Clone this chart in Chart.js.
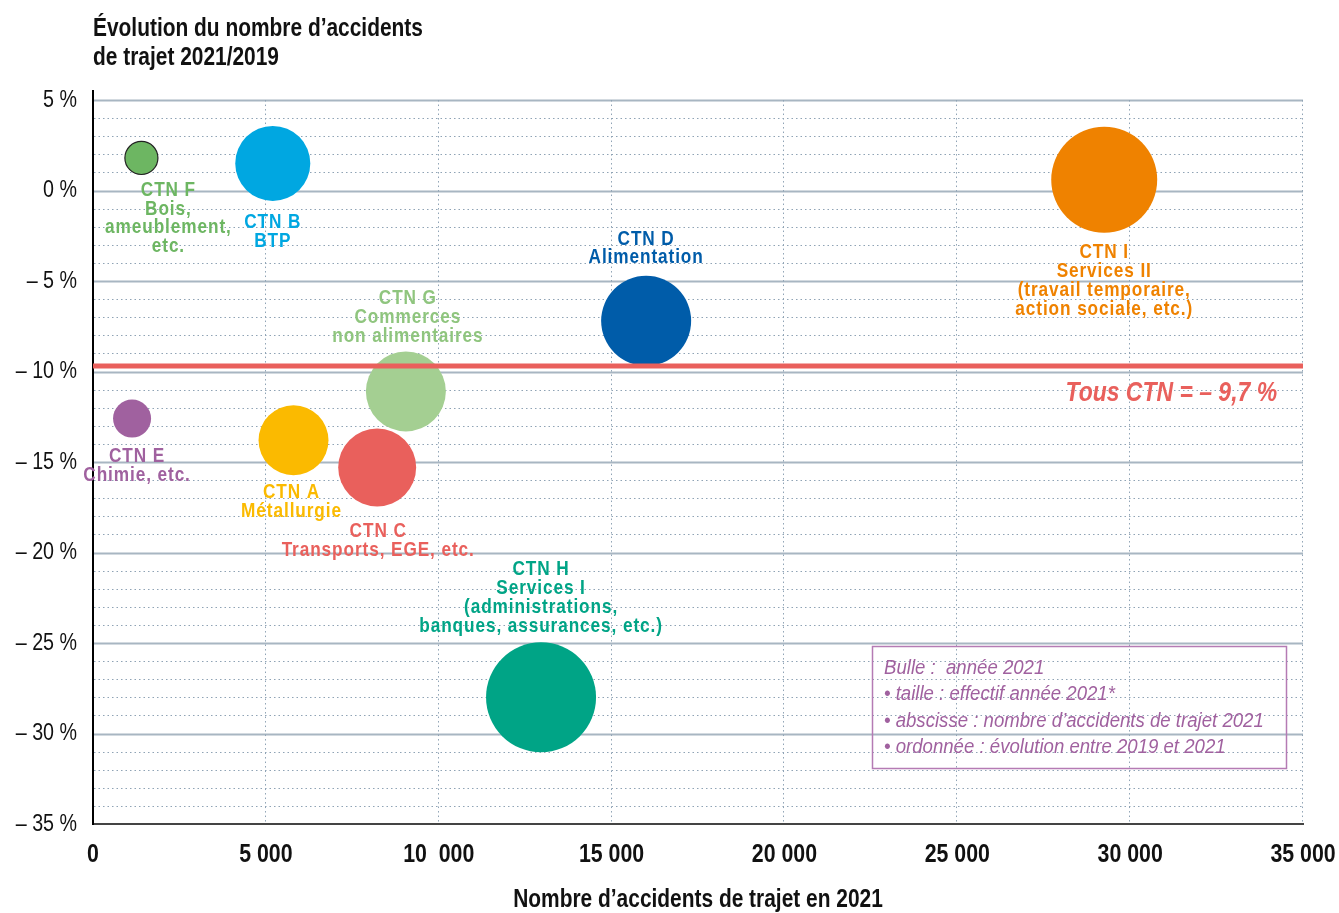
<!DOCTYPE html>
<html>
<head>
<meta charset="utf-8">
<script src="https://cdn.jsdelivr.net/npm/chart.js@4.4.1/dist/chart.umd.min.js"></script>
<style>
  html, body { margin: 0; padding: 0; background: #fff; }
  #wrap { width: 1339px; height: 913px; }
</style>
</head>
<body>
<div id="wrap"><canvas id="bubbles"></canvas></div>
<script>
// data
const ctnNames = ['CTN F', 'CTN B', 'CTN I', 'CTN D', 'CTN G', 'CTN E', 'CTN A', 'CTN C', 'CTN H'];
const ctnSubtitles = [
  ['Bois,', 'ameublement,', 'etc.'],
  ['BTP'],
  ['Services II', '(travail temporaire,', 'action sociale, etc.)'],
  ['Alimentation'],
  ['Commerces', 'non alimentaires'],
  ['Chimie, etc.'],
  ['Métallurgie'],
  ['Transports, EGE, etc.'],
  ['Services I', '(administrations,', 'banques, assurances, etc.)']
];
const accidents2021 = [1400, 5200, 29250, 16000, 9050, 1130, 5800, 8220, 12960];   // x
const evolution = [1.8, 1.5, 0.6, -7.2, -11.1, -12.6, -13.8, -15.3, -28.0];        // y, %
const effectif2021 = [415, 2140, 4270, 3080, 2430, 550, 1860, 2310, 4600];        // bubble size (thousands, estimated)
const allCtn = -9.7;
const xTickValues = [0, 5000, 10000, 15000, 20000, 25000, 30000, 35000];
const xTickLabels = ['0', '5 000', '10  000', '15 000', '20 000', '25 000', '30 000', '35 000'];
const yTickValues = [5, 0, -5, -10, -15, -20, -25, -30, -35];
const legendLines = [
  'Bulle :  année 2021',
  '• taille : effectif année 2021*',
  '• abscisse : nombre d’accidents de trajet 2021',
  '• ordonnée : évolution entre 2019 et 2021'
];

// styles
const colors = ['#6db662', '#00a7e1', '#ef8200', '#005ca9', '#a4cf92', '#a0619f', '#fbba00', '#e9605c', '#00a486'];
const labelColors = ['#6db662', '#00a7e1', '#ef8200', '#005ca9', '#8fc57e', '#a0619f', '#fbba00', '#e9605c', '#00a486'];
const labelOffsets = [[27, 32], [0, 59], [0, 73], [0, -82], [2, -93], [5, 38], [-2, 52], [1, 64], [0, -128]];
const FONT = '"Liberation Sans", Arial, sans-serif';
const NARROW = 0.82; // Arial Narrow look
const maxRadius = 55;
const maxEffectif = Math.max(...effectif2021);

const points = accidents2021.map((x, i) => ({
  x: x,
  y: evolution[i],
  r: maxRadius * Math.sqrt(effectif2021[i] / maxEffectif)
}));

function text(ctx, str, x, y, font, color, align, sx, ls) {
  ctx.save();
  ctx.translate(x, y);
  ctx.scale(sx, 1);
  ctx.font = font;
  ctx.fillStyle = color;
  ctx.textAlign = align;
  ctx.textBaseline = 'middle';
  ctx.letterSpacing = ((ls || 0) / sx) + 'px';
  ctx.fillText(str, 0, 0);
  ctx.restore();
}

const gridPlugin = {
  id: 'grid',
  beforeDatasetsDraw(chart) {
    const { ctx, chartArea: a, scales: { x, y } } = chart;
    ctx.save();
    // horizontal lines, every 1 %
    for (let v = 5; v > -35; v--) {
      const py = Math.round(y.getPixelForValue(v)) + 0.5;
      ctx.beginPath();
      if (v % 5 === 0) {
        ctx.setLineDash([]);
        ctx.strokeStyle = '#a8b6c2';
        ctx.lineWidth = 2;
      } else {
        ctx.setLineDash([1.5, 3]);
        ctx.strokeStyle = '#8fa3b5';
        ctx.lineWidth = 1;
      }
      ctx.moveTo(a.left + 1, py);
      ctx.lineTo(a.right, py);
      ctx.stroke();
    }
    // vertical dotted lines
    ctx.setLineDash([1.5, 3]);
    ctx.strokeStyle = '#8fa3b5';
    ctx.lineWidth = 1;
    xTickValues.slice(1).forEach(v => {
      const px = Math.round(x.getPixelForValue(v)) - 0.5;
      ctx.beginPath();
      ctx.moveTo(px, y.getPixelForValue(5));
      ctx.lineTo(px, a.bottom);
      ctx.stroke();
    });
    ctx.restore();
  }
};

const textPlugin = {
  id: 'texts',
  afterDraw(chart) {
    const { ctx, chartArea: a, scales: { x, y } } = chart;
    const meta = chart.getDatasetMeta(0);
    // bubble labels
    meta.data.forEach((el, i) => {
      const lines = [ctnNames[i]].concat(ctnSubtitles[i]);
      const [dx, dy] = labelOffsets[i];
      lines.forEach((t, k) => {
        text(ctx, t, el.x + dx, el.y + dy + k * 18.8, 'bold 21px ' + FONT, labelColors[i], 'center', NARROW, 0.9);
      });
    });
    // all CTN label
    text(ctx, 'Tous CTN = – 9,7 %', x.getPixelForValue(34250), y.getPixelForValue(allCtn) + 27,
      'italic bold 28px ' + FONT, '#e9605c', 'right', NARROW);
    // tick labels
    yTickValues.forEach(v => {
      const lbl = (v < 0 ? '– ' + (-v) : v) + ' %';
      text(ctx, lbl, a.left - 16, y.getPixelForValue(v), '24px ' + FONT, '#111', 'right', NARROW);
    });
    xTickValues.forEach((v, i) => {
      text(ctx, xTickLabels[i], x.getPixelForValue(v), a.bottom + 31, 'bold 26px ' + FONT, '#111', 'center', NARROW);
    });
    // axis title
    text(ctx, 'Nombre d’accidents de trajet en 2021', (a.left + a.right) / 2, 900, 'bold 25.5px ' + FONT, '#111', 'center', NARROW);
    // legend box
    ctx.save();
    ctx.strokeStyle = '#b57bb4';
    ctx.lineWidth = 1.5;
    ctx.strokeRect(872.5, 646.5, 414, 122);
    ctx.restore();
    legendLines.forEach((t, k) => text(ctx, t, 884, 668 + k * 26.5, 'italic 20px ' + FONT, '#a0619f', 'left', 0.93));
    // title
    text(ctx, 'Évolution du nombre d’accidents', 93, 29, 'bold 25.5px ' + FONT, '#111', 'left', NARROW);
    text(ctx, 'de trajet 2021/2019', 93, 58, 'bold 25.5px ' + FONT, '#111', 'left', NARROW);
  }
};

new Chart(document.getElementById('bubbles'), {
  type: 'bubble',
  data: {
    datasets: [
      {
        label: 'CTN',
        data: points,
        backgroundColor: colors,
        borderColor: colors.map((c, i) => i === 0 ? '#222' : c),
        borderWidth: colors.map((c, i) => i === 0 ? 1.2 : 0),
        hoverRadius: 0,
        order: 1
      },
      {
        type: 'line',
        label: 'Tous CTN',
        data: [{ x: 0, y: allCtn }, { x: 35000, y: allCtn }],
        borderColor: '#e9605c',
        borderWidth: 5,
        pointRadius: 0,
        order: 0
      }
    ]
  },
  options: {
    responsive: true,
    maintainAspectRatio: false,
    animation: false,
    layout: { autoPadding: false, padding: { top: 91, right: 36, bottom: 0, left: 0 } },
    plugins: {
      legend: { display: false },
      tooltip: { enabled: false }
    },
    scales: {
      x: {
        type: 'linear',
        min: 0,
        max: 35000,
        afterBuildTicks: s => { s.ticks = xTickValues.map(v => ({ value: v })); },
        afterFit: s => { s.height = 89; s.paddingLeft = 0; s.paddingRight = 0; },
        grid: { display: false },
        border: { display: true, color: '#444', width: 2 },
        ticks: { display: false }
      },
      y: {
        type: 'linear',
        min: -35,
        max: 5.5,
        afterBuildTicks: s => { s.ticks = yTickValues.map(v => ({ value: v })); },
        afterFit: s => { s.width = 93; s.paddingTop = 0; s.paddingBottom = 0; },
        grid: { display: false },
        border: { display: true, color: '#000', width: 2 },
        ticks: { display: false }
      }
    }
  },
  plugins: [gridPlugin, textPlugin]
});
</script>
</body>
</html>
